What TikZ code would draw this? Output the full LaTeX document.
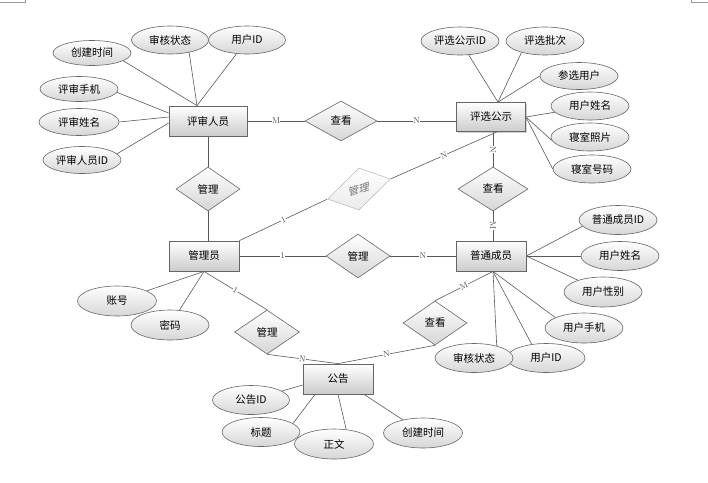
\documentclass[tikz,border=0pt]{standalone}
\usepackage{fontspec}
\newfontfamily\cjk{Noto Sans CJK SC}
\usetikzlibrary{shapes.geometric,shadows,calc}
\pgfdeclarelayer{background}
\pgfsetlayers{background,main}
\begin{document}
\begin{tikzpicture}[x=1pt,y=-1pt,
  cjkfont/.style={font=\cjk\fontsize{10.5}{12}\selectfont},
  ent/.style={rectangle, draw=black!60, line width=0.8pt, top color=white, bottom color=black!20,
    minimum width=70pt, minimum height=30pt, inner sep=0pt, cjkfont,
    drop shadow={shadow xshift=1.2pt, shadow yshift=-1.2pt, opacity=0.35}},
  attr/.style={ellipse, draw=black!60, line width=0.6pt, top color=white, bottom color=black!16,
    minimum width=78pt, minimum height=28pt, inner sep=0pt, cjkfont},
  rel/.style={diamond, draw=black!60, line width=0.6pt, top color=white, bottom color=black!16,
    aspect=1.5, minimum width=64pt, minimum height=44pt, inner sep=0pt, cjkfont},
  faded/.style={draw=black!25, text=black!55, top color=white, bottom color=black!8},
  conn/.style={draw=black!65, line width=0.6pt},
  card/.style={font=\fontsize{8.5}{9}\selectfont, fill=white, inner sep=0.3pt, sloped, text=black!70}]
\useasboundingbox (0,0) rectangle (708,482);
% page corner marks
\draw[black!40, line width=0.5pt] (0,2) -- (25,2) -- (25,0);
\draw[black!40, line width=0.5pt] (691.5,0) -- (691.5,2) -- (708,2);

% entities
\node[ent, minimum width=78pt] (rev) at (208,121) {评审人员};
\node[ent, minimum width=69pt, minimum height=29pt] (pub) at (491,117) {评选公示};
\node[ent] (adm) at (204,256) {管理员};
\node[ent] (mem) at (491,256) {普通成员};
\node[ent] (ann) at (338,379) {公告};

% relationships
\node[rel, minimum width=72pt, minimum height=40pt] (r1) at (341,121) {查看};
\node[rel] (r2) at (208,189) {管理};
\node[rel, minimum width=70pt] (r3) at (493,189) {查看};
\node[rel] (r4) at (358,256) {管理};
\node[rel, minimum width=65pt] (r5) at (267,332) {管理};
\node[rel] (r6) at (435,323) {查看};
\begin{scope}[shift={(359,189)}, yslant=0.32]
  \node[rel, faded, transform shape, minimum width=63pt, minimum height=42pt] (r7) at (0,0) {管理};
\end{scope}

% attributes of 评审人员
\node[attr, minimum height=25pt] (a1) at (92,53) {创建时间};
\node[attr, minimum width=77pt] (a3) at (247,40) {用户ID};
\node[attr, minimum width=77pt] (a2) at (170,40) {审核状态};
\node[attr, minimum height=25pt] (a4) at (79,89) {评审手机};
\node[attr, minimum width=80pt, minimum height=27pt] (a5) at (79,122) {评审姓名};
\node[attr, minimum height=27pt] (a6) at (82,160) {评审人员ID};

% attributes of 评选公示
\node[attr] (b1) at (460,41) {评选公示ID};
\node[attr] (b2) at (545,41) {评选批次};
\node[attr, minimum height=27pt] (b3) at (579,76) {参选用户};
\node[attr] (b4) at (590,106) {用户姓名};
\node[attr] (b5) at (590,137) {寝室照片};
\node[attr] (b6) at (592,169) {寝室号码};

% attributes of 普通成员
\node[attr, minimum height=29pt] (c1) at (618,220) {普通成员ID};
\node[attr, minimum height=29pt] (c2) at (620,256) {用户姓名};
\node[attr, minimum height=30pt] (c3) at (603,292) {用户性别};
\node[attr, minimum height=30pt] (c4) at (584,328) {用户手机};
\node[attr, minimum height=29pt] (c5) at (546,358) {用户ID};
\node[attr, minimum height=29pt] (c6) at (474,358) {审核状态};

% attributes of 管理员
\node[attr, minimum width=79pt, minimum height=30pt] (d1) at (117,301) {账号};
\node[attr, minimum height=30pt] (d2) at (170,325) {密码};

% attributes of 公告
\node[attr, minimum width=77pt, minimum height=29pt] (e1) at (251,400) {公告ID};
\node[attr, minimum height=29pt] (e2) at (261,432) {标题};
\node[attr, minimum width=79pt, minimum height=30pt] (e4) at (423,433) {创建时间};
\node[attr, minimum width=79pt, minimum height=30pt] (e3) at (334,444) {正文};

% connection points
\coordinate (revT) at ($(rev.north)+(-11,0)$);
\coordinate (revW1) at ($(rev.west)+(0,-8)$);
\coordinate (revW2) at ($(rev.west)+(0,-4)$);
\coordinate (revW3) at ($(rev.west)+(0,2)$);
\coordinate (pubT) at ($(pub.north)+(7,0)$);
\coordinate (pubS) at ($(pub.south)+(6,0)$);
\coordinate (memS) at ($(mem.south)+(2,0)$);
\coordinate (annW) at ($(ann.west)+(0,6)$);
\coordinate (annB1) at ($(ann.south)+(-23,0)$);
\coordinate (annB2) at ($(ann.south)+(26,0)$);

\begin{pgfonlayer}{background}
% relationship links
\draw[conn] (rev.east) -- node[card]{M} (r1.west);
\draw[conn] (r1.east) -- node[card]{N} (r1.east -| pub.west);
\draw[conn] (rev.south -| r2.north) -- (r2.north);
\draw[conn] (r2.south) -- (r2.south |- adm.north);
\draw[conn] (adm.north east) -- node[card]{1} (r7.west);
\draw[conn] (r7.east) -- node[card]{N} (pubS);
\draw[conn] (r3.north |- pub.south) -- node[card]{N} (r3.north);
\draw[conn] (r3.south) -- node[card]{M} (r3.south |- mem.north);
\draw[conn] (adm.east) -- node[card]{1} (r4.west);
\draw[conn] (r4.east) -- node[card]{N} (mem.west);
\draw[conn] (adm.south) -- node[card]{1} (r5.north);
\draw[conn] (r5.south) -- node[card]{N} (ann.north);
\draw[conn] (memS) -- node[card]{M} (r6.north);
\draw[conn] (r6.south) -- node[card]{N} (ann.north);
% attribute links
\draw[conn] (a1.346) -- (revT);
\draw[conn] (a2.327) -- (revT);
\draw[conn] (a3) -- (revT);
\draw[conn] (a4.355) -- (revW1);
\draw[conn] (a5.east) -- (revW2);
\draw[conn] (a6.10) -- (revW3);
\draw[conn] (b1) -- (pubT);
\draw[conn] (b2.206) -- (pubT);
\draw[conn] (b3.west) -- (pubT);
\draw[conn] (b4.190) -- (pub.east);
\draw[conn] (b5.185) -- (pub.east);
\draw[conn] (b6.west) -- (pub.east);
\draw[conn] (c1.190) -- (mem.east);
\draw[conn] (c2.west) -- (mem.east);
\draw[conn] (c3) -- (mem.east);
\draw[conn] (c4.160) -- (memS);
\draw[conn] (c5.136) -- (memS);
\draw[conn] (c6.28) -- (memS);
\draw[conn] (d1) -- (adm.south);
\draw[conn] (d2) -- (adm.south);
\draw[conn] (e1) -- (annW);
\draw[conn] (e2.15) -- (annB1);
\draw[conn] (e3.50) -- (ann.south);
\draw[conn] (e4) -- (annB2);
\end{pgfonlayer}
\end{tikzpicture}
\end{document}
